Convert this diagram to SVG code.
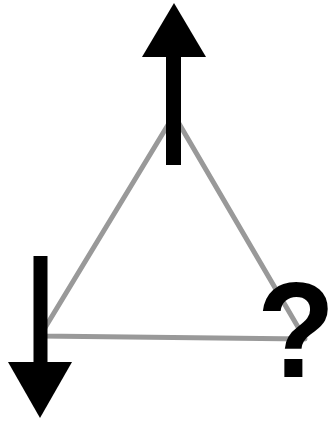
<svg xmlns="http://www.w3.org/2000/svg" width="329" height="421" viewBox="0 0 329 421">
<style>
.edge{stroke:#999;stroke-width:5;fill:none;stroke-linejoin:round}
.arrow{fill:#000}
.q{font-family:"Liberation Sans",Arial,sans-serif;font-weight:bold;font-size:136px;fill:#000}
</style>
<rect width="329" height="421" fill="#fff"/>
<g id="connectors">
<polygon class="edge" points="174,115 40,336 305,339"/>
</g>
<g id="up-arrow">
<rect class="arrow" x="166" y="50" width="15" height="115"/>
<polygon class="arrow" points="174,3 206,57 142,57"/>
</g>
<g id="down-arrow">
<rect class="arrow" x="33.5" y="256" width="14" height="110"/>
<polygon class="arrow" points="8,362 72,362 40,418"/>
</g>
<g id="question">
<text class="q" transform="translate(296,377) scale(0.94,1)" x="0" y="0" text-anchor="middle">?</text>
</g>
</svg>
